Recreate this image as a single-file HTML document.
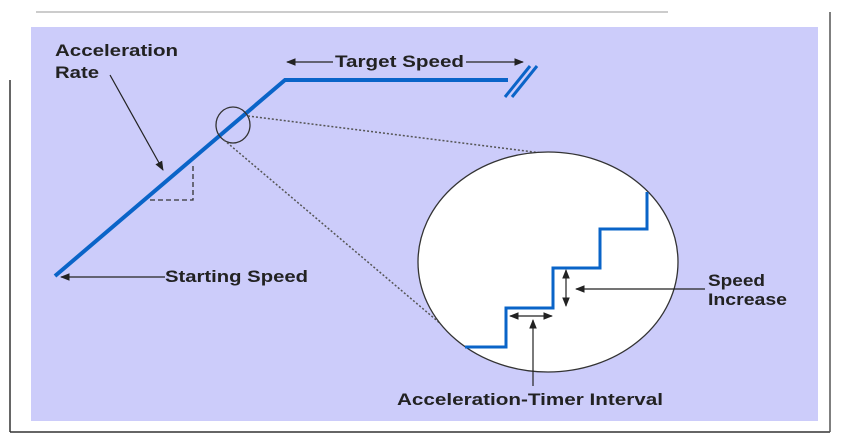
<!DOCTYPE html>
<html><head><style>body{margin:0;background:#fff}svg{display:block}text{font-family:"Liberation Sans",sans-serif;font-weight:bold;font-size:17px;fill:#222}</style></head>
<body>
<svg width="852" height="441" viewBox="0 0 852 441">
<defs><marker id="a" viewBox="0 0 10 10" refX="9" refY="5" markerWidth="8" markerHeight="8" orient="auto-start-reverse"><path d="M0,1 L10,5 L0,9 Z" fill="#222"/></marker></defs>
<line x1="36" y1="12" x2="668" y2="12" stroke="#ccc" stroke-width="2"/>
<line x1="10" y1="80" x2="10" y2="432" stroke="#333" stroke-width="1.5"/>
<line x1="10" y1="432" x2="830" y2="432" stroke="#333" stroke-width="1.5"/>
<line x1="830" y1="12" x2="830" y2="432" stroke="#555" stroke-width="1.5"/>
<rect x="31" y="27" width="787" height="394" fill="#ccccfa"/>
<polyline points="55,276 285,80 508,80" fill="none" stroke="#0a64c8" stroke-width="4"/>
<line x1="505" y1="97" x2="530" y2="66" stroke="#0a64c8" stroke-width="3"/>
<line x1="512" y1="97" x2="537" y2="66" stroke="#0a64c8" stroke-width="3"/>
<polyline points="150,200 193,200 193,164" fill="none" stroke="#333" stroke-width="1.3" stroke-dasharray="5,3"/>
<ellipse cx="233" cy="125" rx="17" ry="18" fill="none" stroke="#333" stroke-width="1.3"/>
<line x1="248" y1="116" x2="558" y2="155" stroke="#555" stroke-width="1.5" stroke-dasharray="2,2"/>
<line x1="224" y1="140" x2="448" y2="330" stroke="#555" stroke-width="1.5" stroke-dasharray="2,2"/>
<ellipse cx="548" cy="262" rx="130" ry="110" fill="#fff" stroke="#333" stroke-width="1.3"/>
<polyline points="465,347 506,347 506,308 553,308 553,268 600,268 600,229 647,229 647,192" fill="none" stroke="#0a64c8" stroke-width="3"/>
<line x1="110" y1="75" x2="163" y2="170" stroke="#222" stroke-width="1.2" marker-end="url(#a)"/>
<line x1="287" y1="62" x2="333" y2="62" stroke="#222" stroke-width="1.2" marker-start="url(#a)"/>
<line x1="466" y1="62" x2="523" y2="62" stroke="#222" stroke-width="1.2" marker-end="url(#a)"/>
<line x1="165" y1="277" x2="61" y2="277" stroke="#222" stroke-width="1.2" marker-end="url(#a)"/>
<line x1="705" y1="289" x2="576" y2="289" stroke="#222" stroke-width="1.2" marker-end="url(#a)"/>
<line x1="566" y1="270" x2="566" y2="306" stroke="#222" stroke-width="1.2" marker-start="url(#a)" marker-end="url(#a)"/>
<line x1="510" y1="316" x2="552" y2="316" stroke="#222" stroke-width="1.2" marker-start="url(#a)" marker-end="url(#a)"/>
<line x1="533" y1="386" x2="533" y2="320" stroke="#222" stroke-width="1.2" marker-end="url(#a)"/>
<text x="55" y="56" textLength="123" lengthAdjust="spacingAndGlyphs">Acceleration</text>
<text x="55" y="78" textLength="44" lengthAdjust="spacingAndGlyphs">Rate</text>
<text x="335" y="67" textLength="129" lengthAdjust="spacingAndGlyphs">Target Speed</text>
<text x="165" y="282" textLength="143" lengthAdjust="spacingAndGlyphs">Starting Speed</text>
<text x="708" y="286" textLength="57" lengthAdjust="spacingAndGlyphs">Speed</text>
<text x="708" y="305" textLength="79" lengthAdjust="spacingAndGlyphs">Increase</text>
<text x="397" y="405" textLength="266" lengthAdjust="spacingAndGlyphs">Acceleration-Timer Interval</text>
</svg>
</body></html>
